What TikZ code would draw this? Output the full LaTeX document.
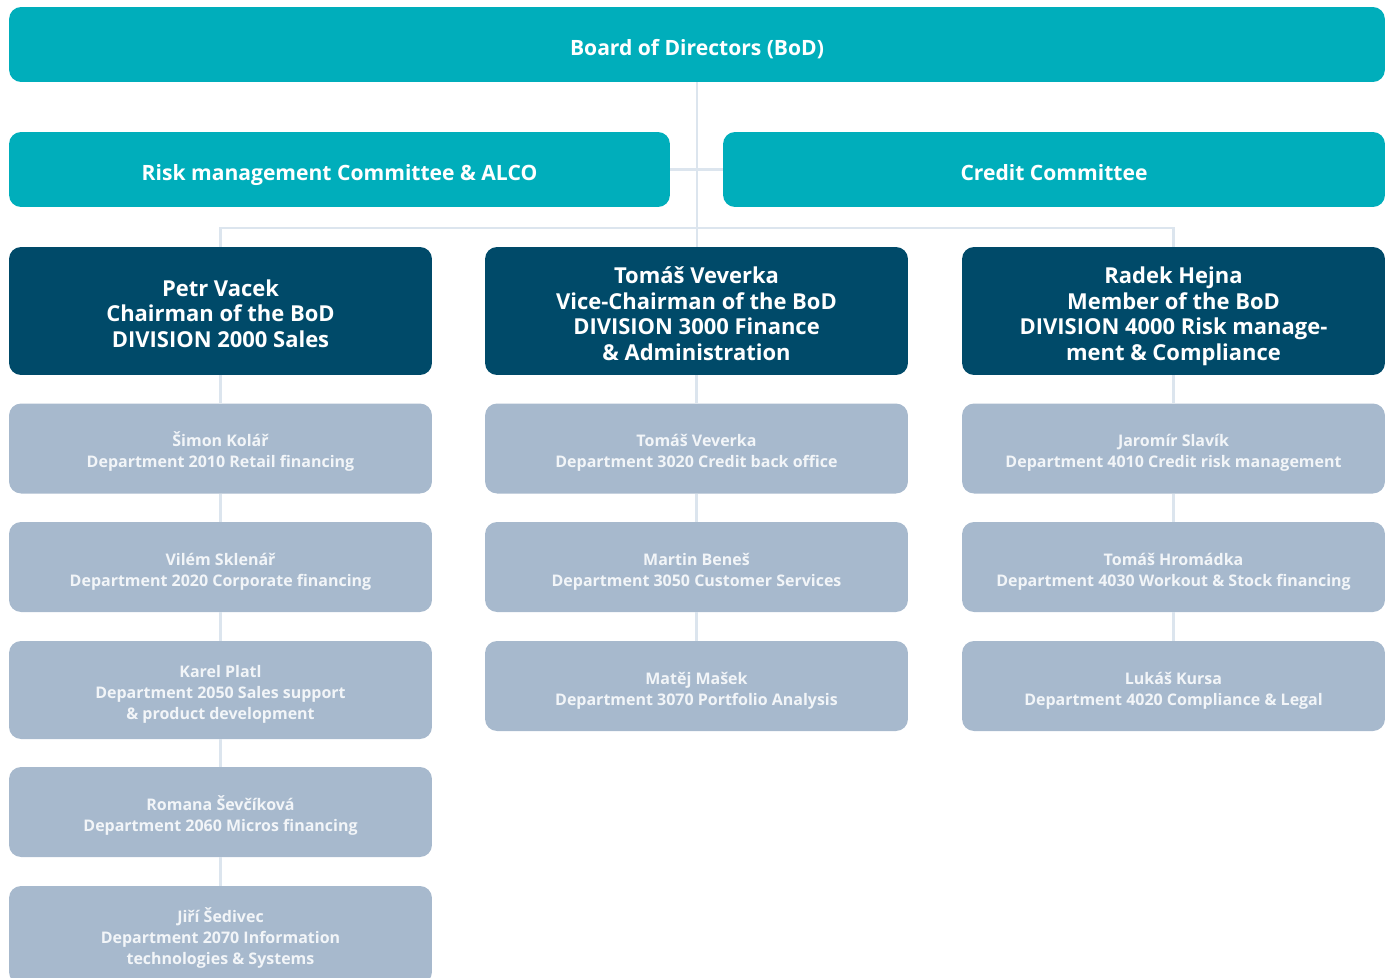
\documentclass[tikz,border=0pt]{standalone}
\usepackage{fontspec}
\setmainfont{Open Sans}
\usetikzlibrary{calc}
\definecolor{bodteal}{HTML}{00AEBB}
\definecolor{divblue}{HTML}{004A69}
\definecolor{deptgray}{HTML}{A7B9CD}
\definecolor{linkgray}{HTML}{DCE5EE}
\definecolor{depttext}{HTML}{F2F5F8}
% pads so that the lines sit a little below the box centre
\newcommand{\padded}[1]{\rule{0pt}{\dimexpr1.014em+3.4pt\relax}#1\rule[-0.3em]{0pt}{0.3em}}
\tikzset{boxtext/.style = {inner sep=0pt, rounded corners=0.24cm, align=center}}
\tikzset{board/.style = {boxtext, fill=bodteal, text=white,
                         font=\bfseries\fontsize{12}{14}\selectfont, minimum height=1.5cm}}
\tikzset{division/.style = {boxtext, fill=divblue, text=white,
                            font=\bfseries\fontsize{12.5}{14.5}\selectfont,
                            minimum width=8.46cm, minimum height=2.56cm}}
\tikzset{dept/.style = {boxtext, fill=deptgray, text=depttext,
                        font=\bfseries\fontsize{9.1}{11.9}\selectfont,
                        minimum width=8.46cm, minimum height=1.8cm}}
\tikzset{link/.style = {draw=linkgray, line width=1.2pt}}
\begin{document}
\begin{tikzpicture}[x=0.02cm, y=-0.02cm]
	\path[use as bounding box, clip] (0,0) rectangle (1391,977);
	% board and committees
	\node[board, minimum width=27.52cm] (bod) at (697,44.5) {\padded{Board of Directors (BoD)}};
	\node[board, minimum width=13.22cm] (risk) at (339.5,169.5) {\padded{Risk management Committee \& ALCO}};
	\node[board, minimum width=13.24cm] (credit) at (1054,169.5) {\padded{Credit Committee}};
	% divisions
	\node[division] (div2000) at (220.5,311) {\padded{Petr Vacek\\Chairman of the BoD\\DIVISION 2000 Sales}};
	\node[division] (div3000) at (696.5,311) {\padded{Tomáš Veverka\\Vice-Chairman of the BoD\\DIVISION 3000 Finance\\\& Administration}};
	\node[division] (div4000) at (1173.5,311) {\padded{Radek Hejna\\Member of the BoD\\DIVISION 4000 Risk manage-\\ment \& Compliance}};
	% departments
	\node[dept] (d2010) at (220.5,448.5) {\padded{Šimon Kolář\\Department 2010 Retail financing}};
	\node[dept] (d2020) at (220.5,567) {\padded{Vilém Sklenář\\Department 2020 Corporate financing}};
	\node[dept, minimum height=1.96cm] (d2050) at (220.5,690) {\padded{Karel Platl\\Department 2050 Sales support\\\& product development}};
	\node[dept] (d2060) at (220.5,812) {\padded{Romana Ševčíková\\Department 2060 Micros financing}};
	\node[dept, minimum height=1.96cm] (d2070) at (220.5,935) {\padded{Jiří Šedivec\\Department 2070 Information\\technologies \& Systems}};
	\node[dept] (d3020) at (696.5,448.5) {\padded{Tomáš Veverka\\Department 3020 Credit back office}};
	\node[dept] (d3050) at (696.5,567) {\padded{Martin Beneš\\Department 3050 Customer Services}};
	\node[dept] (d3070) at (696.5,686) {\padded{Matěj Mašek\\Department 3070 Portfolio Analysis}};
	\node[dept] (d4010) at (1173.5,448.5) {\padded{Jaromír Slavík\\Department 4010 Credit risk management}};
	\node[dept] (d4030) at (1173.5,567) {\padded{Tomáš Hromádka\\Department 4030 Workout \& Stock financing}};
	\node[dept] (d4020) at (1173.5,686) {\padded{Lukáš Kursa\\Department 4020 Compliance \& Legal}};
	% connectors
	\coordinate (bar) at (697,228);
	\draw[link] (bod.south) -- (bod.south |- div3000.north);
	\draw[link] (risk.east) -- (credit.west);
	\draw[link] (div2000.north) |- (bar) -| (div4000.north);
	\foreach \a/\b in {div2000/d2010, d2010/d2020, d2020/d2050, d2050/d2060, d2060/d2070,
	                   div3000/d3020, d3020/d3050, d3050/d3070,
	                   div4000/d4010, d4010/d4030, d4030/d4020}
		\draw[link] (\a.south) -- (\b.north);
\end{tikzpicture}
\end{document}
